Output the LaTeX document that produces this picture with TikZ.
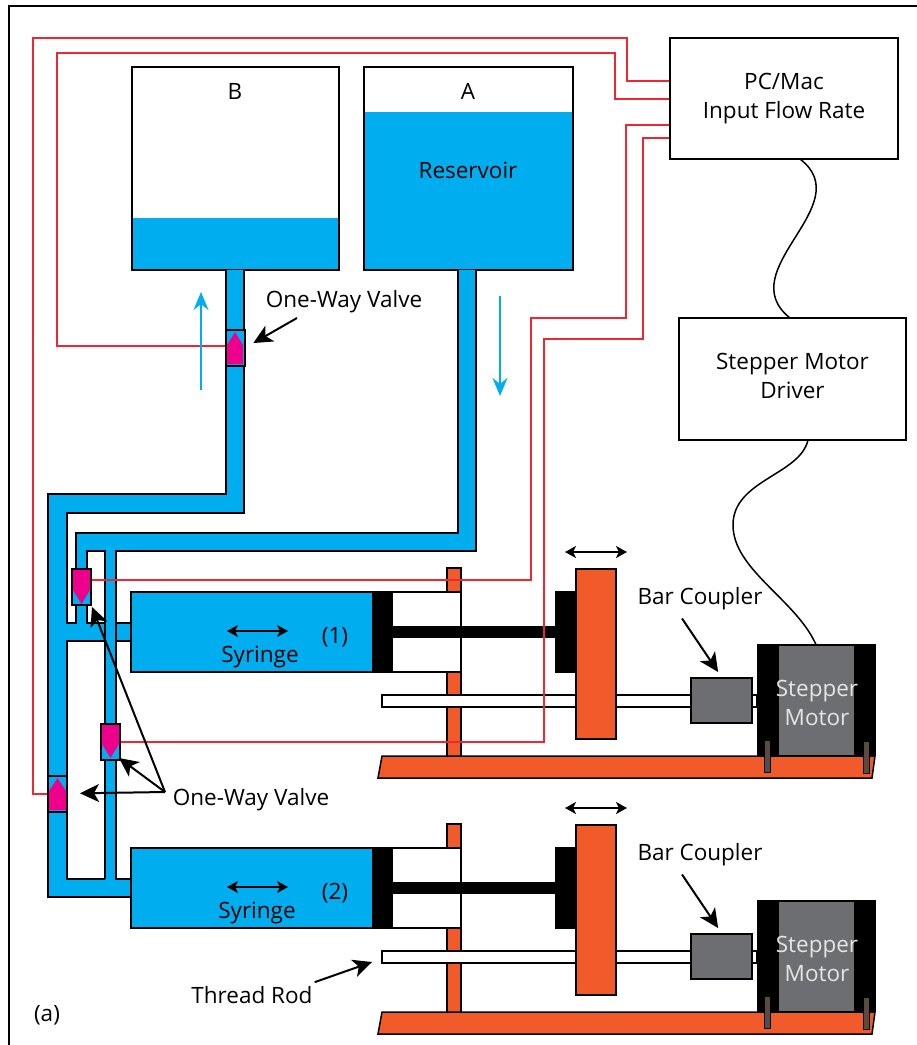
\documentclass[tikz,border=0pt]{standalone}
\usepackage{fontspec}
\setmainfont{Open Sans}
\usetikzlibrary{arrows.meta,positioning,calc}
\definecolor{waterblue}{RGB}{0,174,239}
\definecolor{valvepink}{RGB}{236,0,140}
\definecolor{rigorange}{RGB}{241,90,41}
\definecolor{motorgray}{RGB}{109,110,113}
\definecolor{boltbrown}{RGB}{89,74,66}
\definecolor{wirered}{RGB}{237,40,50}
\tikzset{
    lbl/.style={font=\fontsize{22.5}{24}\selectfont, inner sep=0pt, align=center},
    ctrlbox/.style={draw, line width=2pt, fill=white, inner sep=0pt, lbl},
    tank/.style={draw, line width=2pt, fill=white, inner sep=0pt, minimum width=207pt, minimum height=203pt},
    valvebox/.style={draw, line width=2pt, fill=waterblue, inner sep=0pt, minimum width=19pt, minimum height=36pt},
    pipeline/.style={line width=2pt, line join=miter},
    wire/.style={wirered, line width=2pt},
    flow/.style={waterblue, line width=2pt, -{Stealth[length=18pt,width=15pt]}},
    pointer/.style={line width=2pt, -{Stealth[length=19pt,width=18pt,inset=5pt]}},
    moves/.style={line width=2pt, {Stealth[length=11pt,width=12pt,inset=3pt]}-{Stealth[length=11pt,width=12pt,inset=3pt]}},
    orange/.style={draw, line width=1.5pt, fill=rigorange}
}
\begin{document}
\begin{tikzpicture}[x=1pt,y=-1pt]
    \useasboundingbox (0,0) rectangle (917,1045);
    % Frame
    \draw[line width=2pt] (9,1045) -- (9,6) -- (917,6);
    % Reservoirs
    \node[tank] (tankB) at (235.5,168.5) {};
    \fill[waterblue] (tankB.south west) rectangle (339,218);
    \node[tank, fill=none] at (tankB) {};
    \node[lbl] at (235,91) {B};
    \node[tank, minimum width=209pt] (tankA) at (468.5,168.5) {};
    \fill[waterblue] (tankA.south west) rectangle (573,112);
    \node[tank, minimum width=209pt, fill=none] at (tankA) {};
    \node[lbl] at (468,91) {A};
    \node[lbl] at (468,170) {Reservoir};
    % Control boxes
    \node[ctrlbox, minimum width=228pt, minimum height=121pt] (pc) at (784,98.5) {PC/Mac\\[5pt]Input Flow Rate};
    \node[ctrlbox, minimum width=227pt, minimum height=122pt] (driver) at (792.5,379) {};
    \node[lbl] (driverlbl) at (792.5,376) {Stepper Motor\\[5pt]Driver};
    \coordinate (pcout) at (800,159);
    \coordinate (drvin) at (790,318);
    \coordinate (drvout) at (808,440);
    % Pipes
    \fill[waterblue] (226,270) rectangle (244,513) (48,494) rectangle (244,513)
        (48,494) rectangle (67,897) (48,879) rectangle (131,897)
        (48,623) rectangle (131,641) (76,533) rectangle (87,623)
        (76,533) rectangle (476,551) (458,270) rectangle (476,551)
        (105,533) rectangle (116,879);
    \draw[pipeline] (226,270) -- (226,494) -- (48,494) -- (48,897) -- (131,897);
    \draw[pipeline] (244,270) -- (244,513) -- (67,513) -- (67,623) -- (76,623) -- (76,533) -- (458,533) -- (458,270);
    \draw[pipeline] (476,270) -- (476,551) -- (116,551) -- (116,879) -- (131,879);
    \draw[pipeline] (105,879) -- (67,879) -- (67,641) -- (105,641);
    \draw[pipeline] (116,641) -- (131,641);
    \draw[pipeline] (116,623) -- (131,623);
    \draw[pipeline] (105,623) -- (87,623) -- (87,551) -- (105,551) -- (105,879);
    % Valves
    \node[valvebox] (valveB) at (235,347.5) {};
    \fill[valvepink] (227,364) -- (227,345) -- (235,332) -- (243,345) -- (243,364) -- cycle;
    \node[valvebox] (valveL) at (57.5,793.5) {};
    \fill[valvepink] (49,810) -- (49,791) -- (57.5,778) -- (66,791) -- (66,810) -- cycle;
    \node[valvebox] (valveU) at (81.5,587) {};
    \fill[valvepink] (73,570) -- (73,590) -- (81.5,604) -- (90,590) -- (90,570) -- cycle;
    \node[valvebox] (valveM) at (110.5,742) {};
    \fill[valvepink] (102,725) -- (102,744) -- (110.5,758) -- (119,744) -- (119,725) -- cycle;
    % Pump rigs
    \foreach \i/\dy/\sx in {1/0/260, 2/256/257} {
        \begin{scope}[shift={(0,\dy)}]
            % Post and base
            \draw[orange] (447,568) rectangle (461,760);
            \draw[orange] (382,756) -- (378,778) -- (872,778) -- (875,756) -- cycle;
            % Syringe
            \node[draw, line width=2pt, fill=white, minimum width=88pt, minimum height=80pt, inner sep=0pt] (barrel\i) at (417,632) {};
            \node[draw, line width=2pt, fill=waterblue, minimum width=242pt, minimum height=80pt, inner sep=0pt] (syringe\i) at (252,632) {};
            \fill (373,591) rectangle (393,673);
            \fill (393,626) rectangle (555,638);
            \fill (555,591) rectangle (576,673);
            \draw[moves] (227,631) -- (288,631);
            \node[lbl] at (\sx,657) {Syringe};
            \node[lbl] at (335,637) {(\i)};
            % Thread rod
            \draw[line width=2pt, fill=white] (382,695) rectangle (757,707);
            \draw[orange] (576,569) rectangle (616,739);
            \draw[moves] (565,552) -- (627,552);
            % Coupler
            \node[draw, line width=2pt, fill=motorgray, minimum width=61pt, minimum height=45pt, inner sep=0pt] (coupler\i) at (721.5,700.5) {};
            \node[lbl] (couplerlbl\i) at (700,599) {Bar Coupler};
            \draw[pointer, shorten >=6pt] ([xshift=-18pt,yshift=-8pt]couplerlbl\i.south) -- (coupler\i.north);
            % Motor
            \fill (757,644) rectangle (876,756);
            \node[fill=motorgray, minimum width=75pt, minimum height=109pt, inner sep=0pt] (motor\i) at (816.5,700.5) {};
            \node[lbl, text=white!90!black] at (817,703) {Stepper\\[5pt]Motor};
            \fill[boltbrown] (764,740) rectangle (770,772);
            \fill[boltbrown] (863,741) rectangle (869,773);
            \draw[line width=0.8pt] (764,740) rectangle (770,772) (863,741) rectangle (869,773);
        \end{scope}
    }
    % Driver wiring
    \draw[line width=1.5pt] (pcout) .. controls (860,205) and (730,270) .. (drvin);
    \draw[line width=1.5pt] (drvout) .. controls (800,475) and (733,480) .. (733,525) .. controls (733,570) and (797,600) .. (motor1.north);
    % Control wires
    \draw[wire] (pc.west |- 0,81) -- (627,81) -- (627,38) -- (33,38) -- (33,793.5) -- (valveL.west);
    \draw[wire] (pc.west |- 0,99) -- (615,99) -- (615,53) -- (57,53) -- (57,346) -- (valveB.west |- 0,346);
    \draw[wire] (pc.west |- 0,125) -- (626,125) -- (626,318) -- (531,318) -- (531,580) -- ($(valveU.east)+(0,-7)$);
    \draw[wire] (pc.west |- 0,138) -- (643,138) -- (643,339) -- (544,339) -- (544,742) -- (valveM.east);
    % Flow arrows
    \draw[flow] (201,390) -- (201,292);
    \draw[flow] (500,296) -- (500,396);
    % One-way valve labels
    \node[lbl] (oneway1) at (344,302) {One-Way Valve};
    \node[lbl] (oneway2) at (251,800) {One-Way Valve};
    \coordinate (apex) at (165,792);
    \coordinate (apex1) at (297,318);
    \draw[pointer, shorten >=9pt] (apex1) -- (valveB.east);
    \draw[pointer] (apex) -- (92,607);
    \draw[pointer] (apex) -- (119,758);
    \draw[pointer, shorten >=12pt] (apex) -- (valveL.east);
    % Thread rod label
    \node[lbl] (threadlbl) at (252,995) {Thread Rod};
    \coordinate (rodend) at (372,962);
    \draw[pointer] ([xshift=2pt,yshift=4pt]threadlbl.north east) -- (rodend);
    \node[lbl] (figlbl) at (47,1015) {(a)};
\end{tikzpicture}
\end{document}
